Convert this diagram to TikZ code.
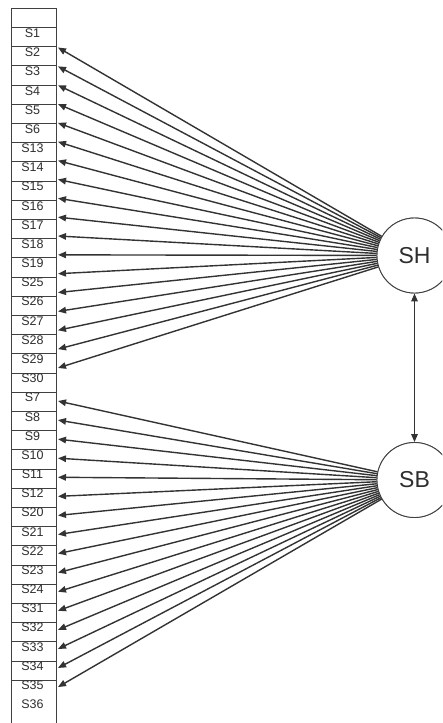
\documentclass[tikz,border=0pt]{standalone}
\usepackage{fontspec}
\setmainfont{Liberation Sans}
\usetikzlibrary{arrows.meta}
\definecolor{linec}{HTML}{333333}
\definecolor{textc}{HTML}{2E2E2E}
\definecolor{boxc}{HTML}{404040}
\begin{document}
\begin{tikzpicture}[x=1pt,y=-1pt,
  rowlabel/.style={text=textc,font=\fontsize{12.5}{12.5}\selectfont,inner sep=0pt},
  latent/.style={circle,draw=boxc,line width=0.9pt,minimum size=75pt,inner sep=0pt,text=textc,font=\fontsize{23}{23}\selectfont,fill=white},
  loading/.style={draw=linec,line width=1.4pt,-{Triangle[length=8pt,width=6.5pt]}},
  gridline/.style={draw=boxc,line width=1pt},
]
\useasboundingbox (0,0) rectangle (442,723);
\clip (0,0) rectangle (442,723);
\fill[white] (0,0) rectangle (442,723);
% column box
\draw[gridline] (11,8) rectangle (56,740);
\foreach \k in {1,...,35}{
  \pgfmathsetmacro{\ly}{27.5+(\k-1)*19.2}
  \draw[gridline] (11,\ly) -- (56,\ly);
}
\foreach \lab [count=\k] in {S1,S2,S3,S4,S5,S6,S13,S14,S15,S16,S17,S18,S19,S25,S26,S27,S28,S29,S30,S7,S8,S9,S10,S11,S12,S20,S21,S22,S23,S24,S31,S32,S33,S34,S35,S36}{
  \pgfmathsetmacro{\ty}{33.3+(\k-1)*19.17}
  \node[rowlabel] (r\k) at (32.5,\ty) {\lab};
}
% latent variables
\node[latent] (SH) at (414.5,255.5) {SH};
\node[latent] (SB) at (414.5,480) {SB};
% tips for SH
\foreach \i in {0,...,17}{
  \pgfmathsetmacro{\hy}{47.5+\i*18.85}
  \coordinate (h\i) at (58,\hy);
  \draw[loading] (SH) -- (h\i);
}
% tips for SB
\foreach \j in {0,...,15}{
  \pgfmathsetmacro{\by}{401+\j*19.07}
  \coordinate (b\j) at (58,\by);
  \draw[loading] (SB) -- (b\j);
}
\node[latent] at (SH) {SH};
\node[latent] at (SB) {SB};
\draw[draw=linec,line width=1.4pt,{Triangle[length=8pt,width=6.5pt]}-{Triangle[length=8pt,width=6.5pt]}] (SH) -- (SB);
\end{tikzpicture}
\end{document}
